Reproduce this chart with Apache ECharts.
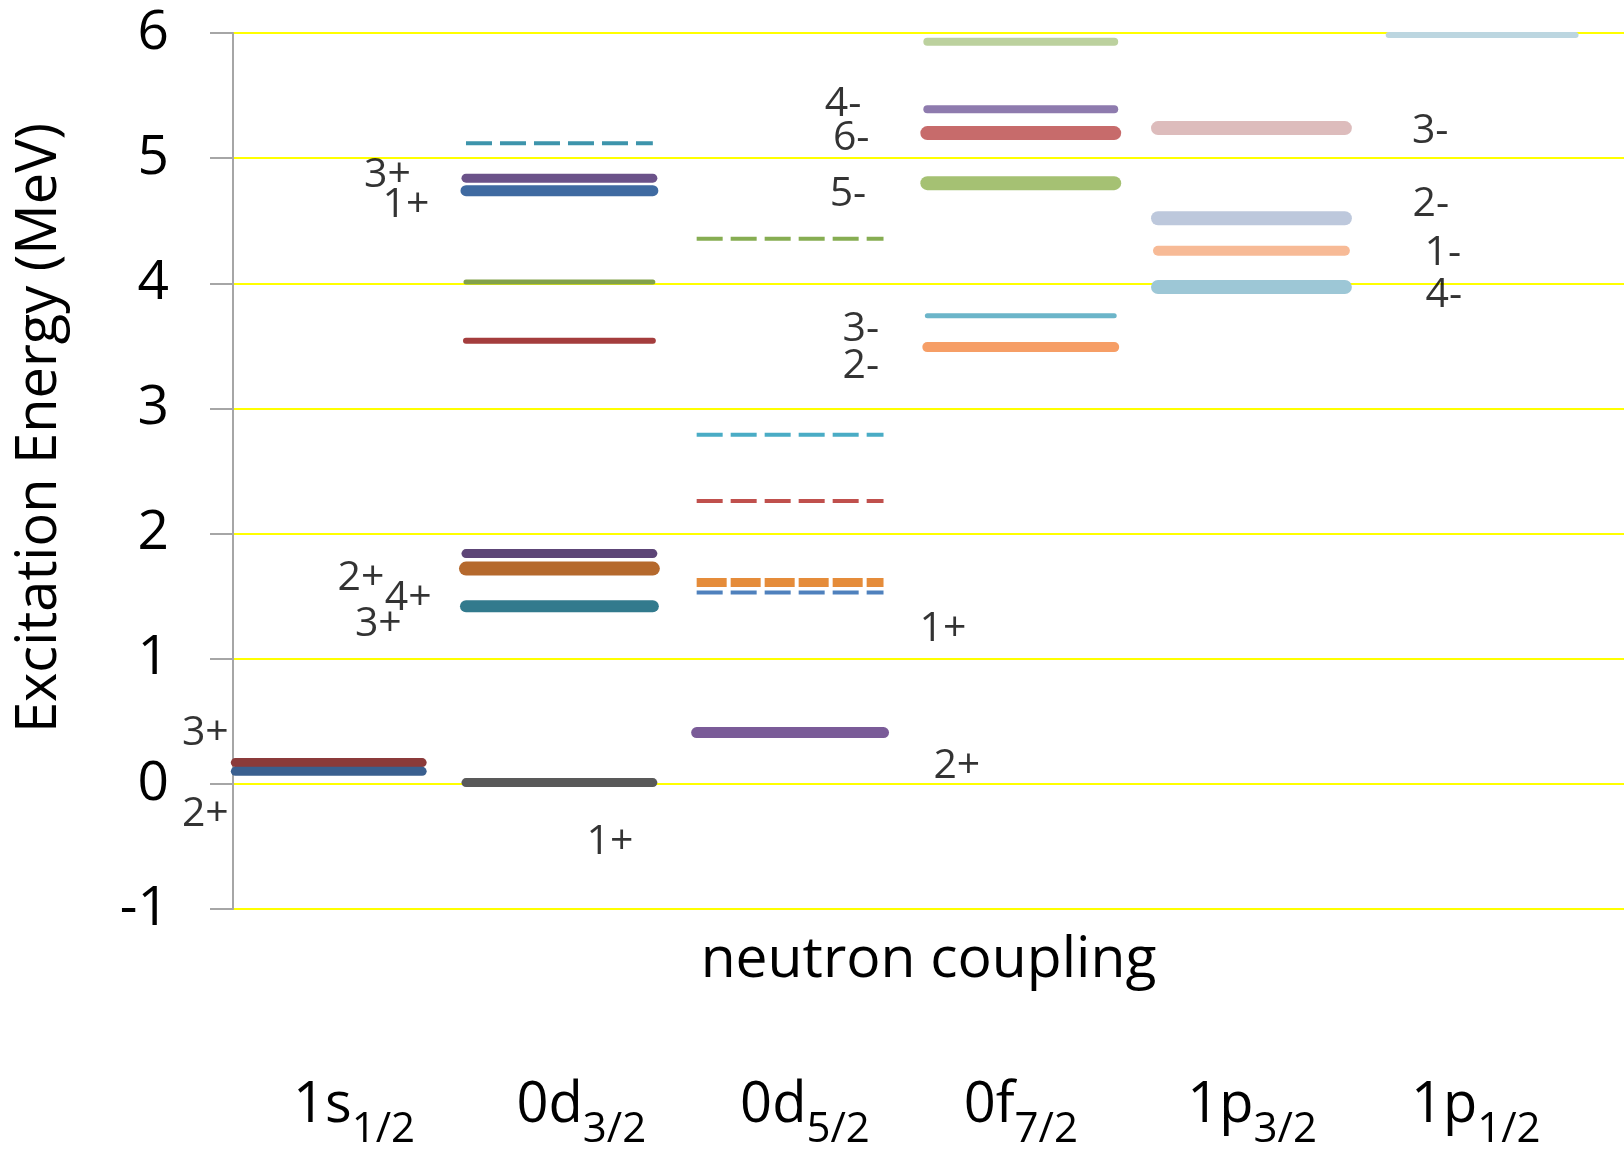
<!DOCTYPE html>
<html>
<head>
<meta charset="utf-8">
<script src="https://cdn.jsdelivr.net/npm/echarts@6/dist/echarts.min.js"></script>
<style>
  html, body { margin: 0; padding: 0; background: #ffffff; }
  #chart { width: 1624px; height: 1152px; }
</style>
</head>
<body>
<div id="chart"></div>
<script>
// Neutron orbitals the odd nucleon couples into (x categories)
const orbitals   = ['1s', '0d', '0d', '0f', '1p', '1p'];
const orbitalJ   = ['1/2', '3/2', '5/2', '7/2', '3/2', '1/2'];

// Energy axis range (MeV)
const energyMin = -1;
const energyMax = 6;

// Levels: column index of the orbital and excitation energy (MeV)
const levelColumn = [0, 0,
                     1, 1, 1, 1, 1, 1, 1, 1, 1,
                     2, 2, 2, 2, 2, 2,
                     3, 3, 3, 3, 3, 3,
                     4, 4, 4, 4,
                     5];
const levelEnergy = [0.17, 0.10,
                     5.12, 4.84, 4.74, 4.01, 3.54, 1.84, 1.72, 1.42, 0.01,
                     4.355, 2.79, 2.26, 1.61, 1.53, 0.41,
                     5.93, 5.39, 5.20, 4.80, 3.74, 3.49,
                     5.24, 4.52, 4.26, 3.97,
                     5.985];

// Spin-parity annotations
const spinText = ['3+', '2+',
                  '3+', '1+', '2+', '4+', '3+', '1+',
                  '4-', '6-', '5-', '3-', '2-', '1+', '2+',
                  '3-', '2-', '1-', '4-'];

// ---- presentation ----
const levelColor = ['#8b3a3a', '#3a5f8f',
                    '#3d94ab', '#6b5289', '#3f6aa1', '#82a14a', '#a43d3d', '#5d4577', '#b5692d', '#327a8d', '#595959',
                    '#86ad52', '#4aacc5', '#c0504d', '#e58c3a', '#4f81bd', '#7a5b98',
                    '#bcd19e', '#8e7bae', '#c76b6b', '#a5c173', '#6cb5c9', '#f69e66',
                    '#ddbcbc', '#bdc8dc', '#f7ba96', '#9dc7d6',
                    '#bcd6e0'];
const levelWidth = [9, 9,
                    4, 9, 11, 5, 6, 9, 14, 12, 9,
                    4, 4, 4, 9, 4, 11,
                    8, 8, 14, 14, 5, 10,
                    14, 14, 10, 14,
                    6];
// 0 = solid, 1 = thin dash, 2 = dense dash
const levelDashed = [0, 0,
                     1, 0, 0, 0, 0, 0, 0, 0, 0,
                     1, 1, 1, 2, 1, 0,
                     0, 0, 0, 0, 0, 0,
                     0, 0, 0, 0,
                     0];
const dashPatterns = ['solid', [26, 8], [30, 4]];
// where each annotation sits, in axis units [orbital axis, MeV]
const spinAt = [[-0.12, 0.40], [-0.12, -0.24],
                [0.67, 4.86], [0.75, 4.62], [0.555, 1.64], [0.76, 1.48], [0.63, 1.275], [1.634, -0.47],
                [2.645, 5.43], [2.68, 5.16], [2.666, 4.71], [2.722, 3.63], [2.722, 3.34], [3.078, 1.235], [3.138, 0.14],
                [5.19, 5.215], [5.193, 4.63], [5.245, 4.24], [5.249, 3.905]];

const columnStart = 0.01;   // level segment span within one orbital column
const columnEnd = 0.82;
const FONT = 'Open Sans';

const series = levelEnergy.map((e, k) => ({
  type: 'line',
  xAxisIndex: 0,
  yAxisIndex: 0,
  symbol: 'none',
  silent: true,
  clip: false,
  data: [[levelColumn[k] + columnStart, e], [levelColumn[k] + columnEnd, e]],
  lineStyle: {
    color: levelColor[k],
    width: levelWidth[k],
    type: dashPatterns[levelDashed[k]],
    cap: levelDashed[k] ? 'butt' : 'round'
  }
}));

series.push({
  type: 'scatter',
  xAxisIndex: 0,
  yAxisIndex: 0,
  silent: true,
  clip: false,
  symbolSize: 0,
  data: spinAt.map((p, i) => ({ value: p, name: spinText[i] })),
  label: {
    show: true,
    position: 'inside',
    formatter: p => p.name,
    fontFamily: FONT,
    fontSize: 41,
    color: '#000000'
  }
});

const chart = echarts.init(document.getElementById('chart'), null, { renderer: 'canvas' });
chart.setOption({
  animation: false,
  backgroundColor: '#ffffff',
  grid: { left: 233, right: 0, top: 33, bottom: 243, containLabel: false },
  xAxis: [
    {
      type: 'value',
      min: 0,
      max: 6.03,
      axisLine: { show: false },
      axisTick: { show: false },
      axisLabel: { show: false },
      splitLine: { show: false },
      name: 'neutron coupling',
      nameLocation: 'middle',
      nameGap: 23,
      nameTextStyle: { fontFamily: FONT, fontSize: 57, color: '#000000' }
    },
    {
      type: 'value',
      position: 'bottom',
      min: -0.268,
      max: 5.953,
      axisLine: { show: false },
      axisTick: { show: false },
      splitLine: { show: false },
      axisLabel: {
        show: true,
        customValues: [0, 1, 2, 3, 4, 5],
        align: 'left',
        margin: 166,
        formatter: v => '{m|' + orbitals[v] + '}{s|' + orbitalJ[v] + '}',
        rich: {
          m: { fontFamily: FONT, fontSize: 56, color: '#000000', height: 62, lineHeight: 62, verticalAlign: 'bottom' },
          s: { fontFamily: FONT, fontSize: 42, color: '#000000', height: 14, lineHeight: 14, verticalAlign: 'bottom' }
        }
      }
    }
  ],
  yAxis: {
    type: 'value',
    min: energyMin,
    max: energyMax,
    interval: 1,
    axisLine: { show: true, lineStyle: { color: '#a6a6a6', width: 2 } },
    axisTick: { show: true, inside: false, length: 23, lineStyle: { color: '#a6a6a6', width: 2 } },
    axisLabel: { fontFamily: FONT, fontSize: 55, color: '#000000', margin: 64 },
    splitLine: { show: true, lineStyle: { color: '#ffff00', width: 2 } }
  },
  graphic: [
    {
      type: 'text',
      x: 40,
      y: 428,
      rotation: Math.PI / 2,
      silent: true,
      style: {
        text: 'Excitation Energy (MeV)',
        font: '56px "Open Sans"',
        fill: '#000000',
        align: 'center',
        verticalAlign: 'middle',
        textAlign: 'center',
        textVerticalAlign: 'middle'
      }
    }
  ],
  series: series
});
</script>
</body>
</html>
